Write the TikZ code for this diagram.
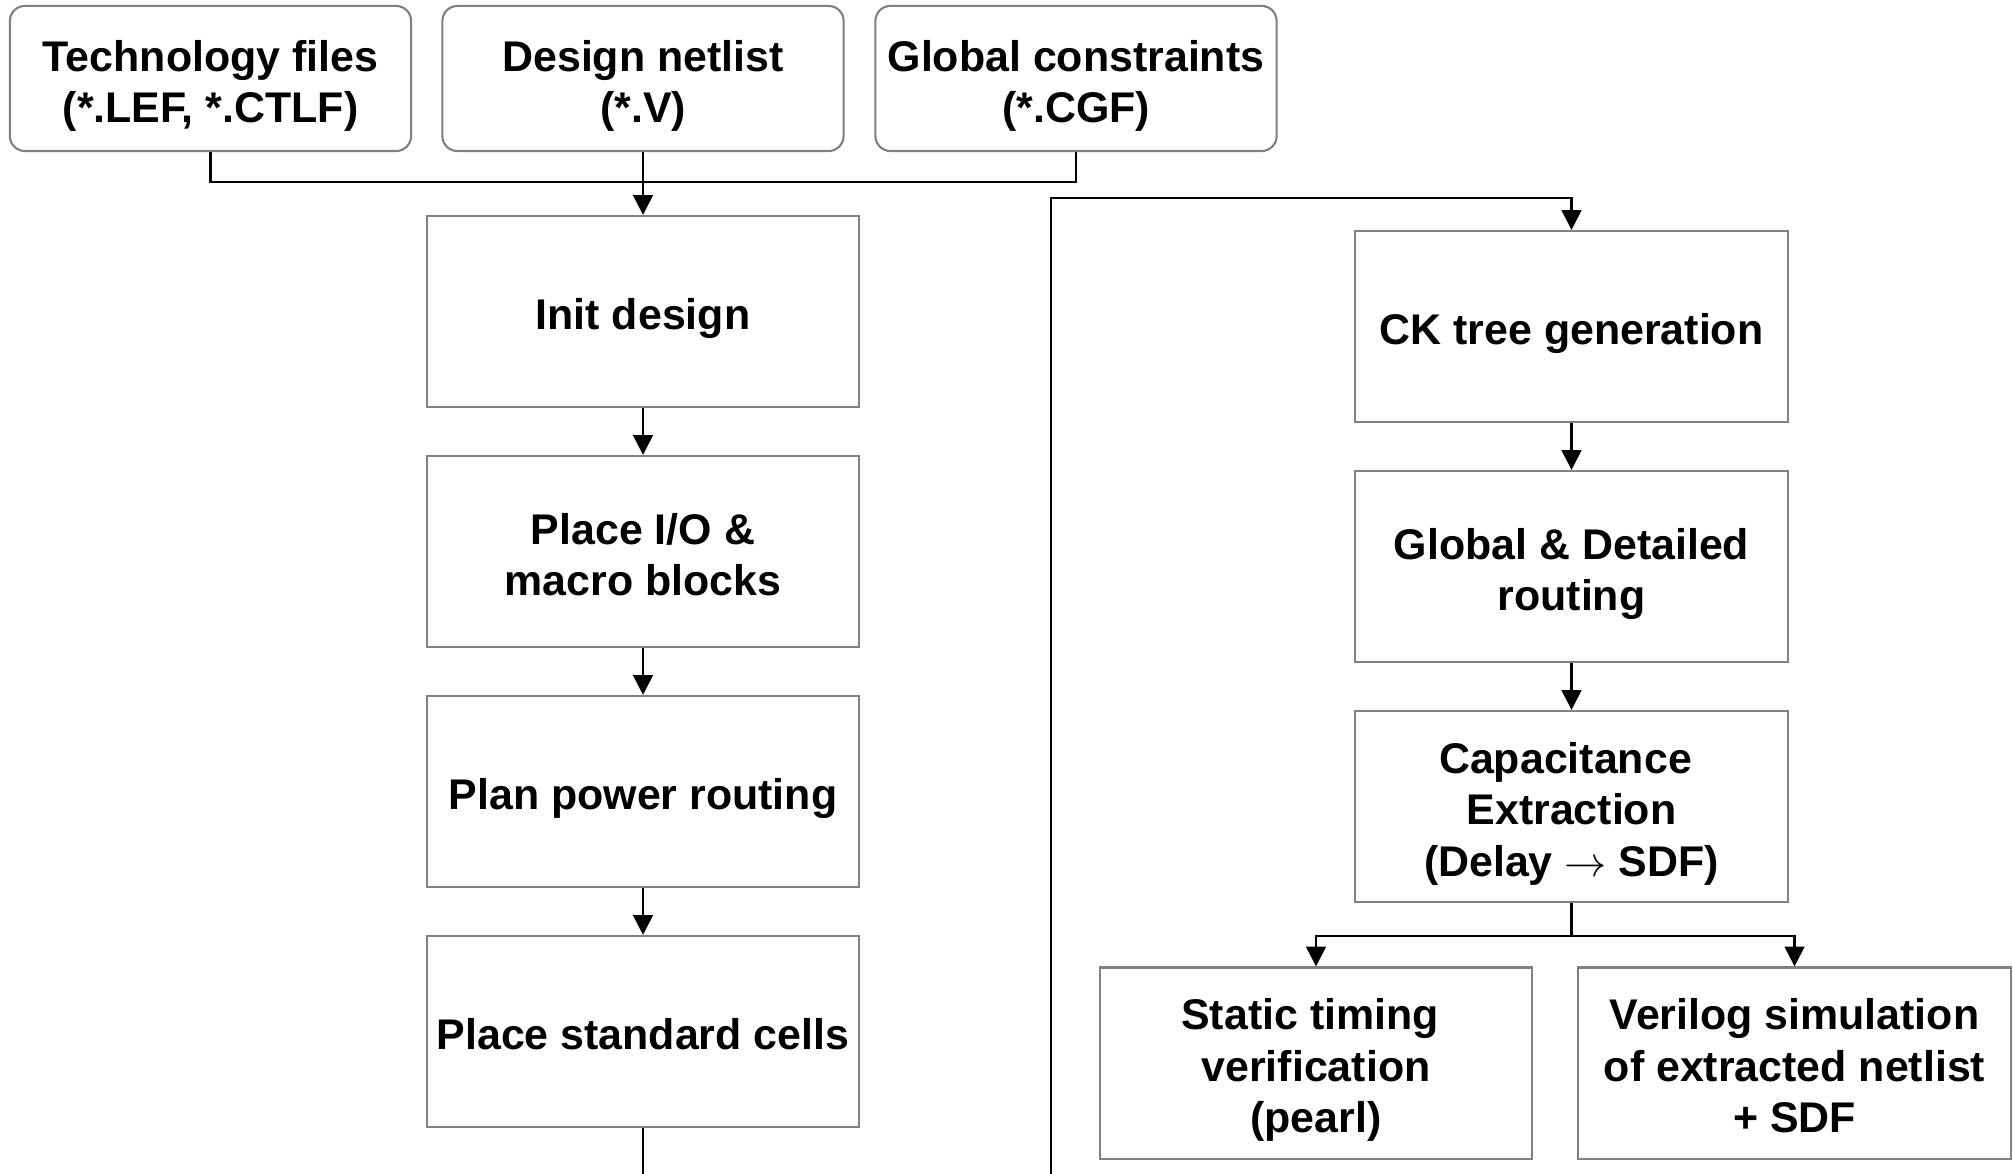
\documentclass[tikz,border=0pt]{standalone}
\usepackage{fontspec}
\setmainfont{Liberation Sans}
\usetikzlibrary{arrows.meta}
\newcommand{\boxtop}{\rule{0pt}{13.4pt}}

\begin{document}
\begin{tikzpicture}[x=0.01cm,y=-0.01cm,
  font=\fontsize{12.2}{14.6}\selectfont\bfseries,
  box/.style={draw=black!50,line width=0.6pt,align=center,inner sep=0pt,
    minimum width=4.32cm,minimum height=1.91cm,
    execute at begin node=\boxtop,
    execute at end node=\rule[-3pt]{0pt}{0pt}},
  filebox/.style={box,rounded corners=0.15cm,minimum width=4.01cm,minimum height=1.45cm},
  arr/.style={-{Triangle[width=5.6pt,length=5.6pt]}},
  every path/.style={line width=0.6pt}]

\useasboundingbox (0,0) rectangle (2013,1174);
%
\node[filebox] (tech) at (210.5,78.5) {\boxtop Technology files\\(*.LEF, *.CTLF)};
\node[filebox] (net)  at (643,78.5)   {\boxtop Design netlist\\(*.V)};
\node[filebox] (cons) at (1076,78.5)  {\boxtop Global constraints\\(*.CGF)};
%
\node[box] (init)  at (643,311.5)  {Init design};
\node[box] (pio)   at (643,551.5)  {\boxtop Place I/O \&\\macro blocks};
\node[box] (power) at (643,791.5)  {Plan power routing};
\node[box] (cells) at (643,1031.5) {Place standard cells};
%
\node[box] (ck)    at (1571.5,326.5) {CK tree generation};
\node[box] (route) at (1571.5,566.5) {\boxtop Global \& Detailed\\routing};
\node[box] (cap)   at (1571.5,806.5) {\boxtop Capacitance\kern3.4pt\\Extraction\\(Delay $\rightarrow$ SDF)};
\node[box] (sta)   at (1316,1063)    {\boxtop Static timing\kern3.4pt\\verification\\(pearl)};
\node[box] (vsim)  at (1794.5,1063)  {\boxtop Verilog simulation\\of extracted netlist\\+ SDF};
%
\coordinate (join) at (643,182);
\coordinate (lout) at (643,1174);
\coordinate (rin)  at (1051,1174);
\coordinate (fork) at (1571.5,936);
%
\draw (tech.south) |- (join) -| (cons.south);
\draw[arr] (net.south) -- (init.north);
\draw[arr] (init) -- (pio);
\draw[arr] (pio) -- (power);
\draw[arr] (power) -- (cells);
\draw (cells.south) -- (lout);
%
\draw[arr] (rin) |- ([yshift=0.32cm]ck.north) -- (ck.north);
\draw[arr] (ck) -- (route);
\draw[arr] (route) -- (cap);
\draw (cap.south) -- (fork);
\draw[arr] (fork) -| (sta.north);
\draw[arr] (fork) -| (vsim.north);
\end{tikzpicture}
\end{document}
